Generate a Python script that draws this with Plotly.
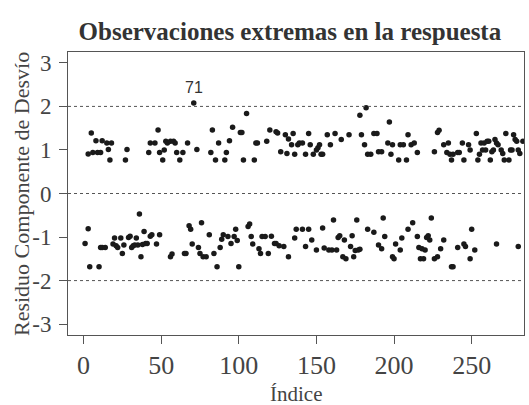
import plotly.graph_objects as go

# Observaciones con residuo positivo
indice_pos = [3, 5, 6, 8, 9, 11, 12, 15, 16, 17, 18, 27, 28, 42, 43, 46, 48, 49, 51, 52,
              53, 54, 56, 58, 59, 60, 62, 64, 67, 71, 73, 82, 83, 85, 87, 91, 92, 94, 96, 101,
              102, 103, 105, 110, 111, 112, 118, 120, 124, 125, 127, 130, 131, 132, 134, 135, 136, 138, 139, 141,
              143, 145, 146, 148, 150, 151, 152, 153, 154, 157, 159, 162, 166, 171, 178, 179, 181, 182, 183, 185,
              187, 189, 190, 192, 196, 197, 198, 199, 203, 204, 206, 208, 209, 211, 213, 215, 226, 228, 229, 232,
              234, 235, 236, 237, 238, 241, 242, 244, 245, 248, 249, 253, 254, 255, 256, 257, 258, 259, 260, 261,
              262, 263, 264, 265, 266, 267, 269, 270, 271, 272, 274, 275, 276, 277, 278, 279, 280, 281, 283]
resid_pos = [0.91, 1.39, 0.94, 1.21, 0.94, 0.94, 1.21, 1.16, 1.01, 0.77, 1.16, 0.77, 1.01, 0.94, 1.16, 1.16, 1.46, 0.94, 0.77, 1.00,
             1.20, 1.16, 1.20, 1.20, 1.16, 0.94, 0.77, 0.94, 1.16, 2.08, 1.01, 0.94, 1.46, 0.77, 1.16, 0.77, 0.94, 1.21, 1.52, 1.40,
             1.40, 0.77, 1.84, 0.77, 1.16, 1.16, 1.20, 1.46, 1.42, 1.39, 0.96, 1.35, 0.92, 1.25, 1.12, 1.38, 0.90, 1.12, 1.16, 1.16,
             0.90, 1.38, 1.12, 0.90, 1.00, 1.05, 1.12, 0.90, 0.90, 1.35, 1.12, 1.38, 1.24, 1.35, 1.80, 1.35, 1.12, 1.97, 0.90, 0.90,
             1.38, 1.38, 0.96, 0.96, 1.16, 1.64, 0.90, 1.12, 0.77, 1.12, 1.12, 0.77, 1.35, 1.12, 1.16, 0.94, 0.96, 1.40, 1.45, 1.12,
             0.94, 1.16, 0.90, 0.77, 0.90, 0.94, 0.94, 1.16, 0.77, 1.12, 1.00, 1.38, 0.77, 0.90, 1.16, 1.00, 1.16, 1.00, 1.20, 1.20,
             0.77, 0.96, 1.00, 1.24, 1.16, 1.12, 1.00, 0.92, 0.77, 1.38, 0.77, 1.00, 1.00, 1.35, 1.24, 1.20, 1.00, 0.92, 1.20]

# Observaciones con residuo negativo
indice_neg = [1, 3, 4, 10, 11, 12, 14, 19, 20, 21, 22, 24, 25, 26, 29, 30, 31, 32, 33, 34,
              35, 36, 37, 38, 39, 40, 41, 43, 44, 47, 49, 56, 57, 65, 66, 68, 69, 70, 74, 75,
              76, 77, 79, 81, 84, 86, 88, 89, 90, 93, 95, 97, 98, 99, 100, 106, 107, 108, 109, 113,
              114, 115, 117, 119, 121, 123, 124, 126, 129, 132, 136, 137, 141, 143, 145, 147, 150, 154, 155, 158,
              160, 161, 163, 164, 165, 167, 168, 169, 172, 173, 174, 175, 176, 177, 178, 183, 187, 190, 192, 193,
              194, 199, 200, 201, 204, 205, 209, 212, 215, 216, 217, 218, 219, 220, 221, 222, 223, 224, 226, 228,
              230, 232, 237, 238, 241, 245, 246, 249, 250, 252, 266, 280]
resid_neg = [-1.15, -0.81, -1.68, -1.68, -1.24, -1.24, -1.24, -1.16, -1.02, -1.20, -1.24, -1.02, -1.38, -1.18, -1.01, -0.98, -1.24, -1.20, -1.18, -1.02,
             -1.18, -0.47, -1.45, -1.17, -0.87, -1.15, -1.15, -0.98, -0.95, -1.16, -0.95, -1.45, -1.39, -1.38, -1.38, -0.74, -0.82, -1.16, -1.24, -1.38,
             -0.67, -1.45, -1.45, -0.95, -1.38, -1.68, -1.24, -1.05, -0.95, -0.99, -1.15, -0.99, -0.82, -1.08, -1.68, -0.76, -0.70, -0.99, -1.16, -1.27,
             -1.38, -0.99, -0.99, -1.38, -0.98, -1.15, -1.15, -1.20, -1.22, -1.45, -1.02, -0.82, -0.82, -1.22, -0.82, -1.07, -1.30, -0.79, -1.25, -1.30,
             -1.30, -0.61, -1.30, -1.01, -0.97, -1.45, -1.07, -1.50, -1.22, -0.97, -1.45, -1.31, -0.61, -1.30, -1.28, -0.82, -0.89, -1.18, -1.27, -0.56,
             -0.99, -1.45, -1.50, -1.16, -1.30, -1.02, -0.82, -0.67, -0.99, -1.24, -1.50, -1.27, -1.50, -1.30, -1.01, -0.97, -1.07, -0.56, -1.50, -1.45,
             -1.27, -1.07, -1.68, -1.68, -1.24, -1.16, -1.22, -1.50, -0.82, -1.30, -1.16, -1.22]

ref_lines = [-2, 0, 2]
y_ticks = [-3, -2, -1, 0, 1, 2, 3]
y_ticktext = ["-3", "-2", "-1", "0", "1", "2", "3"]
x_ticks = [0, 50, 100, 150, 200, 250]
label_idx = 71
label_val = 2.08

serif = "Liberation Serif"
grey = "#444444"

fig = go.Figure()
fig.add_trace(go.Scatter(
    x=indice_pos + indice_neg,
    y=resid_pos + resid_neg,
    mode="markers",
    marker=dict(size=5.5, color="#1a1a1a", line=dict(width=0)),
    showlegend=False,
    hoverinfo="x+y",
))

for v in ref_lines:
    fig.add_hline(y=v, line=dict(color="#555555", width=1, dash="dot"))

fig.add_annotation(x=label_idx, y=label_val, text=str(label_idx), showarrow=False,
                   yshift=15, font=dict(family="Liberation Sans", size=16, color="#333333"))

# axis titles as paper-anchored annotations
fig.add_annotation(xref="paper", yref="paper", x=-0.102, y=0.5, xanchor="center", yanchor="middle",
                   text="Residuo Componente de Desvío", textangle=-90, showarrow=False,
                   font=dict(family=serif, size=22, color=grey))
fig.add_annotation(xref="paper", yref="paper", x=0.5, y=-0.208, xanchor="center", yanchor="middle",
                   text="Índice", showarrow=False,
                   font=dict(family=serif, size=21, color=grey))

fig.update_layout(
    width=529, height=405,
    margin=dict(l=68, r=5, t=52, b=70),
    paper_bgcolor="white", plot_bgcolor="white",
    title=dict(text="<b>Observaciones extremas en la respuesta</b>",
               x=0.548, xanchor="center", y=0.923, yanchor="middle",
               font=dict(family=serif, size=25, color="#333333")),
    xaxis=dict(range=[-10, 283.7], tickvals=x_ticks, showgrid=False, zeroline=False,
               showline=True, linecolor="#555555", linewidth=1, mirror=True,
               ticks="outside", ticklen=8, tickcolor="#555555", automargin=False,
               ticklabelstandoff=-1,
               tickfont=dict(family=serif, size=26, color=grey)),
    yaxis=dict(range=[-3.25, 3.25], tickvals=y_ticks, ticktext=y_ticktext, showgrid=False, zeroline=False,
               showline=True, linecolor="#555555", linewidth=1, mirror=True,
               ticks="outside", ticklen=8, tickcolor="#555555", automargin=False,
               ticklabelstandoff=3,
               tickfont=dict(family=serif, size=23, color=grey)),
)

fig.write_html("out.html", config={"displayModeBar": False},
               post_script="document.body.style.margin='0';")
